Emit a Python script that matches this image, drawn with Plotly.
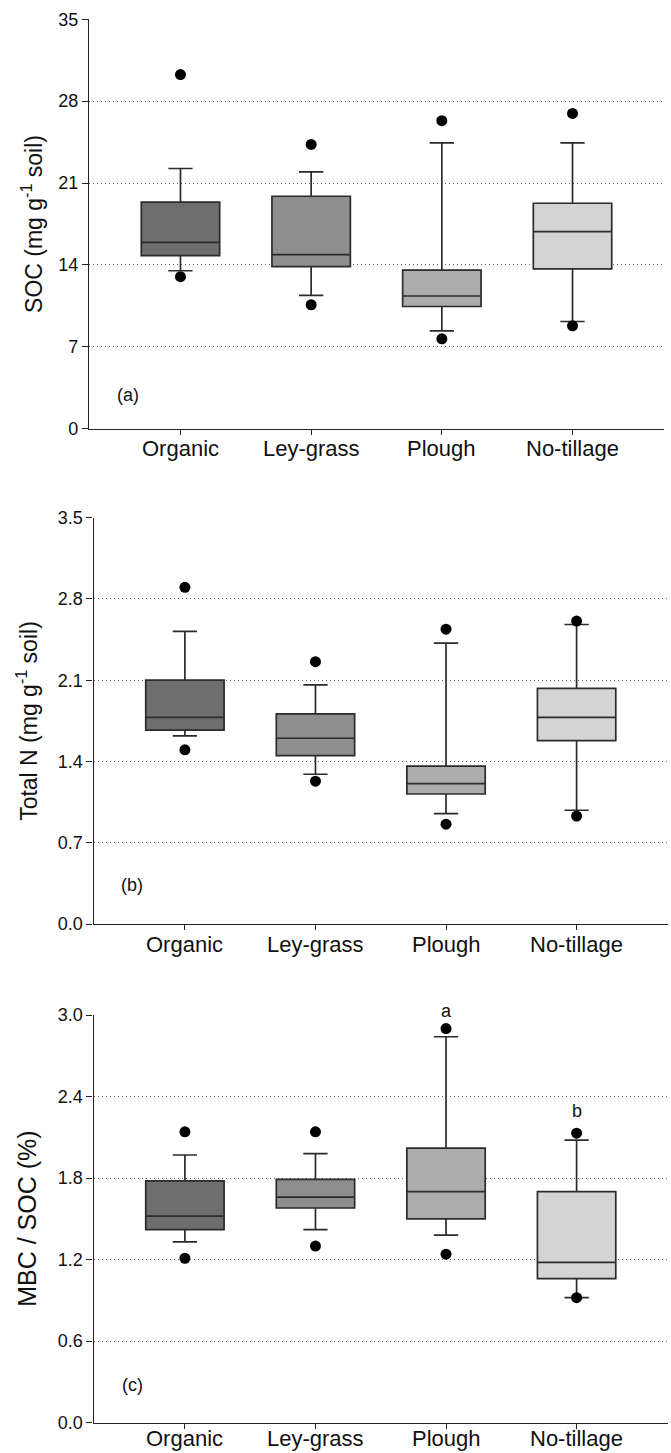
import plotly.graph_objects as go

categories = ["Organic", "Ley-grass", "Plough", "No-tillage"]
fill_colors = ["#6e6e6e", "#8e8e8e", "#acacac", "#d4d4d4"]

# Panel (a) SOC
soc_lowerfence = [13.50, 11.39, 8.36, 9.16]
soc_q1 = [14.79, 13.85, 10.44, 13.65]
soc_median = [15.93, 14.87, 11.34, 16.84]
soc_q3 = [19.36, 19.87, 13.56, 19.27]
soc_upperfence = [22.24, 21.96, 24.44, 24.44]
soc_out_low = [12.99, 10.59, 7.68, 8.79]
soc_out_high = [30.27, 24.30, 26.33, 26.95]

# Panel (b) Total N
tn_lowerfence = [1.62, 1.29, 0.95, 0.98]
tn_q1 = [1.67, 1.45, 1.12, 1.58]
tn_median = [1.78, 1.60, 1.21, 1.78]
tn_q3 = [2.10, 1.81, 1.36, 2.03]
tn_upperfence = [2.52, 2.06, 2.42, 2.58]
tn_out_low = [1.50, 1.23, 0.86, 0.93]
tn_out_high = [2.90, 2.26, 2.54, 2.61]

# Panel (c) MBC / SOC
mr_lowerfence = [1.33, 1.42, 1.38, 0.92]
mr_q1 = [1.42, 1.58, 1.50, 1.06]
mr_median = [1.52, 1.66, 1.70, 1.18]
mr_q3 = [1.78, 1.79, 2.02, 1.70]
mr_upperfence = [1.97, 1.98, 2.84, 2.08]
mr_out_low = [1.21, 1.30, 1.24, 0.92]
mr_out_high = [2.14, 2.14, 2.90, 2.13]

soc_ticks = [0, 7, 14, 21, 28, 35]
soc_ticktext = ["0", "7", "14", "21", "28", "35"]
tn_ticks = [0.0, 0.7, 1.4, 2.1, 2.8, 3.5]
tn_ticktext = ["0.0", "0.7", "1.4", "2.1", "2.8", "3.5"]
mr_ticks = [0.0, 0.6, 1.2, 1.8, 2.4, 3.0]
mr_ticktext = ["0.0", "0.6", "1.2", "1.8", "2.4", "3.0"]

letters_cats = ["Plough", "No-tillage"]
letters_text = ["a", "b"]
letters_y = [3.03, 2.29]

W, H = 671, 1453
FONT = "Liberation Sans, Arial, sans-serif"

panels = [
    dict(lf=soc_lowerfence, q1=soc_q1, med=soc_median, q3=soc_q3, uf=soc_upperfence,
         lo=soc_out_low, hi=soc_out_high, ticks=soc_ticks, tt=soc_ticktext, rng=[0, 35],
         ytop=19.3, ybot=428.6, xl=89, xr=664, title="SOC (mg g<sup>-1</sup> soil)", tx=32,
         tsize=23, label="(a)", label_y=2.88, catoff=20),
    dict(lf=tn_lowerfence, q1=tn_q1, med=tn_median, q3=tn_q3, uf=tn_upperfence,
         lo=tn_out_low, hi=tn_out_high, ticks=tn_ticks, tt=tn_ticktext, rng=[0, 3.5],
         ytop=517.7, ybot=924, xl=93.5, xr=668, title="Total N (mg g<sup>-1</sup> soil)", tx=27,
         tsize=23, label="(b)", label_y=0.336, catoff=20),
    dict(lf=mr_lowerfence, q1=mr_q1, med=mr_median, q3=mr_q3, uf=mr_upperfence,
         lo=mr_out_low, hi=mr_out_high, ticks=mr_ticks, tt=mr_ticktext, rng=[0, 3.0],
         ytop=1015, ybot=1422.7, xl=93.5, xr=668, title="MBC / SOC (%)", tx=27,
         tsize=25, label="(c)", label_y=0.28, catoff=16),
]

fig = go.Figure()
annotations = []
layout_axes = {}

for p_i, p in enumerate(panels):
    n = p_i + 1
    xa = "x" if n == 1 else f"x{n}"
    ya = "y" if n == 1 else f"y{n}"
    for i, cat in enumerate(categories):
        fig.add_trace(go.Box(
            x=[cat], q1=[p["q1"][i]], median=[p["med"][i]], q3=[p["q3"][i]],
            lowerfence=[p["lf"][i]], upperfence=[p["uf"][i]],
            fillcolor=fill_colors[i], line=dict(color="#2b2b2b", width=1.7),
            width=0.6, whiskerwidth=0.31, boxpoints=False, showlegend=False,
            xaxis=xa, yaxis=ya, hoverinfo="skip",
        ))
    fig.add_trace(go.Scatter(
        x=categories + categories, y=p["lo"] + p["hi"], mode="markers",
        marker=dict(color="black", size=11, symbol="circle"),
        showlegend=False, xaxis=xa, yaxis=ya, hoverinfo="skip",
    ))
    d0 = 1 - p["ybot"] / H
    d1 = 1 - p["ytop"] / H
    xkey = "xaxis" if n == 1 else f"xaxis{n}"
    ykey = "yaxis" if n == 1 else f"yaxis{n}"
    layout_axes[xkey] = dict(
        domain=[p["xl"] / W, p["xr"] / W], anchor=ya, type="category",
        categoryorder="array", categoryarray=categories,
        range=[-0.7, 3.7], showline=True, linecolor="#222", linewidth=1.4,
        ticks="outside", ticklen=5, tickwidth=1.2, tickcolor="#222",
        showgrid=False, zeroline=False, showticklabels=False, automargin=False,
    )
    layout_axes[ykey] = dict(
        domain=[d0, d1], anchor=xa, range=p["rng"],
        tickvals=p["ticks"], ticktext=p["tt"],
        showline=True, linecolor="#222", linewidth=1.4,
        ticks="outside", ticklen=6, tickwidth=1.2, tickcolor="#222",
        showgrid=True, gridcolor="#666", griddash="1px,3px", gridwidth=1,
        zeroline=False, tickfont=dict(size=18, color="#111", family=FONT),
        automargin=False,
    )
    annotations.append(dict(
        text=p["title"], xref="paper", yref="paper", x=p["tx"] / W,
        y=1 - (p["ytop"] + p["ybot"]) / 2 / H, textangle=-90, showarrow=False,
        xanchor="center", yanchor="middle",
        font=dict(size=p["tsize"], color="#111", family=FONT),
    ))
    annotations.append(dict(
        text=p["label"], xref=xa, yref=ya, x=-0.405, y=p["label_y"],
        showarrow=False, xanchor="center", yanchor="middle",
        font=dict(size=18, color="#111", family=FONT),
    ))
    for cat in categories:
        annotations.append(dict(
            text=cat, xref=xa, yref="paper", x=cat,
            y=1 - (p["ybot"] + p["catoff"]) / H, showarrow=False,
            xanchor="center", yanchor="middle",
            font=dict(size=22, color="#111", family=FONT),
        ))

for cat, t, yv in zip(letters_cats, letters_text, letters_y):
    annotations.append(dict(
        text=t, xref="x3", yref="y3 domain", x=cat, y=yv / 3.0, showarrow=False,
        xanchor="center", yanchor="middle",
        font=dict(size=18, color="#111", family=FONT),
    ))

fig.update_layout(
    width=W, height=H, margin=dict(l=0, r=0, t=0, b=0),
    paper_bgcolor="white", plot_bgcolor="white",
    boxmode="overlay", annotations=annotations,
    font=dict(family=FONT, color="#111"),
    **layout_axes,
)

fig.write_html("out.html")
